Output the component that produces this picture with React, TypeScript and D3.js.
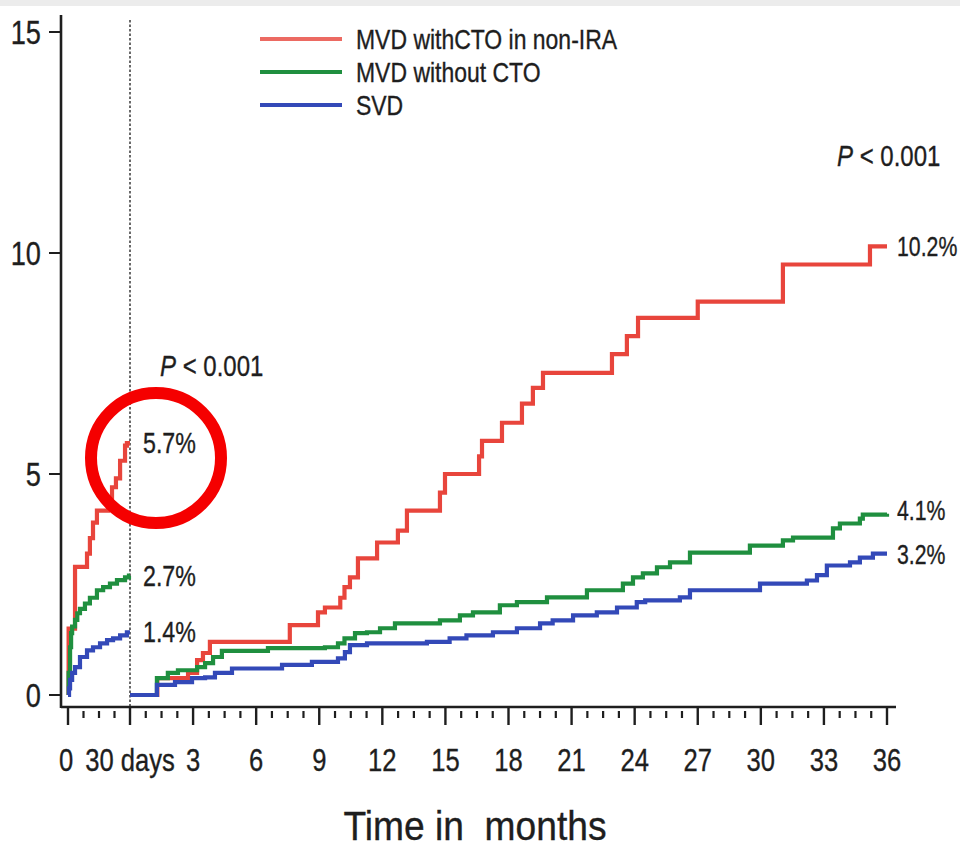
import React from "react";
import * as d3 from "d3";

// ---- Data (cumulative incidence, %) ----
const seriesNames = ["MVD withCTO in non-IRA", "MVD without CTO", "SVD"];
const seriesColors = ["#e8453c", "#1f8f3f", "#3349b8"];

// first 30 days (x in days)
const redDays: [number, number][] = [[0,0],[0.3,1.5],[3.4,2.9],[9.2,3.2],[10.6,3.55],[12.1,3.9],[14,4.17],[19.4,4.4],[21.3,4.7],[23.2,4.9],[25.2,5.3],[27.6,5.64],[28.5,5.7],[30,5.7]];
const greenDays: [number, number][] = [[0,0],[0.3,0.5],[1,1.08],[1.5,1.4],[2,1.55],[3.4,1.7],[4.5,1.85],[5.8,1.95],[8.2,2.07],[10.6,2.2],[14,2.37],[17,2.44],[20.3,2.52],[23.7,2.6],[27.6,2.66],[29.5,2.7],[30,2.7]];
const blueDays: [number, number][] = [[0,0],[0.5,0.15],[1,0.34],[2,0.5],[3.4,0.63],[5.8,0.86],[9.2,1.01],[12.1,1.08],[15.5,1.17],[18.9,1.24],[21.8,1.28],[25.2,1.35],[28.5,1.42],[30,1.42]];

// landmark 30 days – 36 months (x in months)
const redMonths: [number, number][] = [[0,0],[1.3,0.38],[2.76,0.5],[3.19,0.79],[3.47,0.95],[3.8,1.2],[7.6,1.58],[8.94,1.87],[9.27,1.98],[10.0,2.2],[10.2,2.44],[10.46,2.66],[10.84,3.09],[11.75,3.45],[12.74,3.72],[13.17,4.17],[14.74,4.58],[14.98,5.0],[16.6,5.4],[16.74,5.75],[17.69,6.16],[18.64,6.59],[19.16,6.95],[19.64,7.29],[22.92,7.71],[23.63,8.12],[24.16,8.53],[27.0,8.9],[31.05,9.74],[35.19,10.15],[36,10.15]];
const greenMonths: [number, number][] = [[0,0],[1.28,0.38],[1.8,0.5],[2.28,0.56],[3.19,0.63],[3.57,0.72],[3.95,0.86],[4.37,1.0],[6.56,1.06],[9.27,1.08],[9.89,1.17],[10.2,1.28],[10.7,1.4],[11.27,1.42],[11.89,1.51],[12.6,1.62],[14.74,1.69],[15.69,1.8],[16.31,1.87],[17.59,2.03],[18.4,2.1],[19.83,2.21],[21.73,2.37],[23.44,2.52],[23.92,2.66],[24.39,2.75],[25.06,2.89],[25.68,3.0],[26.63,3.22],[29.48,3.38],[31.05,3.5],[31.53,3.56],[33.43,3.77],[33.76,3.88],[34.71,3.99],[34.85,4.08],[36,4.1]];
const blueMonths: [number, number][] = [[0,0],[1.28,0.23],[2.14,0.29],[2.95,0.38],[3.57,0.4],[4.04,0.5],[4.85,0.6],[7.23,0.68],[8.65,0.75],[9.89,0.83],[10.22,0.97],[10.46,1.13],[11.27,1.17],[14.12,1.2],[15.2,1.28],[16.0,1.35],[17.26,1.42],[18.4,1.51],[19.5,1.62],[20.1,1.69],[21.07,1.8],[22.2,1.87],[23.16,1.98],[24.1,2.1],[24.5,2.14],[26.15,2.21],[26.63,2.37],[29.96,2.52],[32.19,2.59],[32.67,2.71],[33.14,2.93],[34.24,3.0],[34.71,3.11],[35.33,3.2],[36,3.2]];

const daysEndLabels = ["5.7%", "2.7%", "1.4%"];
const monthsEndLabels = ["10.2%", "4.1%", "3.2%"];
const yTicks = [0, 5, 10, 15];
const monthTicks = [3, 6, 9, 12, 15, 18, 21, 24, 27, 30, 33, 36];
const dayTickLabels = ["0", "30 days"];
const dayTicks = [0, 30];
const pText = "0.001";
const xTitle = "Time in  months";

const W = 960, H = 854;
const FONT = "'Liberation Sans', Arial, sans-serif";
const INK = "#1e1e1e";
const SX = 0.8; // narrow emulation

function NText(props: { x: number; y: number; size: number; anchor?: string; sx?: number; children: React.ReactNode }) {
  const { x, y, size, anchor = "start", sx = SX, children } = props;
  return (
    <text transform={`translate(${x},${y}) scale(${sx},1)`} textAnchor={anchor as any} fontFamily={FONT} fontSize={size} fill={INK} stroke={INK} strokeWidth={0.35} style={{ whiteSpace: "pre" }}>
      {children}
    </text>
  );
}

export default function App() {
  const y = d3.scaleLinear().domain([0, 15]).range([695, 32]);
  const xd = d3.scaleLinear().domain([0, 30]).range([68, 130]);
  const xm = d3.scaleLinear().domain([0, 36]).range([130, 887]);
  const axisY = y(0) + 12;
  const axisX = 61;

  const lineD = d3.line<[number, number]>().x(d => xd(d[0])).y(d => y(d[1])).curve(d3.curveStepAfter);
  const lineM = d3.line<[number, number]>().x(d => xm(d[0])).y(d => y(d[1])).curve(d3.curveStepAfter);

  const daysData = [redDays, greenDays, blueDays];
  const monthsData = [redMonths, greenMonths, blueMonths];

  const dayMinor = d3.range(7.5, 30, 7.5);
  const monthMinor = d3.range(0.75, 36, 0.75).filter(m => Math.abs(m / 3 - Math.round(m / 3)) > 1e-6);

  return (
    <div style={{ position: "absolute", left: 0, top: 0 }}>
      <svg width={W} height={H} style={{ display: "block", background: "#fff" }}>
        <rect x={0} y={0} width={W} height={6} fill="#ececec" />
        {/* dotted landmark line */}
        <line x1={xd(30)} x2={xd(30)} y1={y(15) - 12} y2={axisY} stroke="#444" strokeWidth={1.6} strokeDasharray="2.5,2" />

        {/* Y axis */}
        <line x1={axisX} x2={axisX} y1={y(15) - 17} y2={axisY + 1} stroke={INK} strokeWidth={2.6} />
        {yTicks.map(t => (
          <g key={t}>
            <line x1={axisX - 12} x2={axisX} y1={y(t)} y2={y(t)} stroke={INK} strokeWidth={2} />
            <NText x={axisX - 20} y={y(t) + 12} size={34} anchor="end">{t}</NText>
          </g>
        ))}

        {/* X axis */}
        <line x1={axisX} x2={xm(36) + 9} y1={axisY} y2={axisY} stroke={INK} strokeWidth={2.6} />
        {dayTicks.map(t => (
          <line key={"dt" + t} x1={xd(t)} x2={xd(t)} y1={axisY} y2={axisY + 18} stroke={INK} strokeWidth={2.4} />
        ))}
        {monthTicks.map(t => (
          <line key={"mt" + t} x1={xm(t)} x2={xm(t)} y1={axisY} y2={axisY + 18} stroke={INK} strokeWidth={2.4} />
        ))}
        {dayMinor.map(t => (
          <line key={"dm" + t} x1={xd(t)} x2={xd(t)} y1={axisY + 4} y2={axisY + 11} stroke={INK} strokeWidth={2.2} />
        ))}
        {monthMinor.map(t => (
          <line key={"mm" + t} x1={xm(t)} x2={xm(t)} y1={axisY + 4} y2={axisY + 11} stroke={INK} strokeWidth={2.2} />
        ))}
        {dayTicks.map((t, i) => (
          <NText key={"dl" + t} x={xd(t) - (i === 0 ? 2 : 0)} y={axisY + 64} size={32} anchor="middle">{dayTickLabels[i]}</NText>
        ))}
        {monthTicks.map(t => (
          <NText key={"ml" + t} x={xm(t)} y={axisY + 64} size={32} anchor="middle">{t}</NText>
        ))}
        <NText x={475} y={840} size={40} anchor="middle" sx={0.93}>{xTitle}</NText>

        {/* curves */}
        {daysData.map((d, i) => (
          <path key={"d" + i} d={lineD(d) || ""} fill="none" stroke={seriesColors[i]} strokeWidth={4.2} />
        ))}
        {monthsData.map((d, i) => (
          <path key={"m" + i} d={lineM(d) || ""} fill="none" stroke={seriesColors[i]} strokeWidth={4.2} />
        ))}

        {/* end labels */}
        {daysData.map((d, i) => (
          <NText key={"el" + i} x={xd(30) + 13} y={y(d[d.length - 1][1]) + 10} size={29}>{daysEndLabels[i]}</NText>
        ))}
        {monthsData.map((d, i) => (
          <NText key={"er" + i} x={xm(36) + 10} y={y(d[d.length - 1][1]) + 10 + (i === 1 ? -4 : 0)} size={28} sx={0.76}>{monthsEndLabels[i]}</NText>
        ))}

        {/* P values */}
        <NText x={160} y={376} size={30}>
          <tspan fontStyle="italic">P</tspan><tspan>{" < " + pText}</tspan>
        </NText>
        <NText x={837} y={166} size={30}>
          <tspan fontStyle="italic">P</tspan><tspan>{" < " + pText}</tspan>
        </NText>

        {/* legend */}
        {seriesNames.map((n, i) => (
          <g key={n} transform={`translate(260, ${39 + i * 33})`}>
            <line x1={0} x2={82} y1={0} y2={0} stroke={seriesColors[i]} strokeWidth={4} opacity={i === 0 ? 0.8 : 1} />
            <NText x={96} y={10} size={28} sx={0.82}>{n}</NText>
          </g>
        ))}

        {/* red highlight circle */}
        <circle cx={156} cy={458} r={65} fill="none" stroke="#f50000" strokeWidth={12} />
      </svg>
    </div>
  );
}
